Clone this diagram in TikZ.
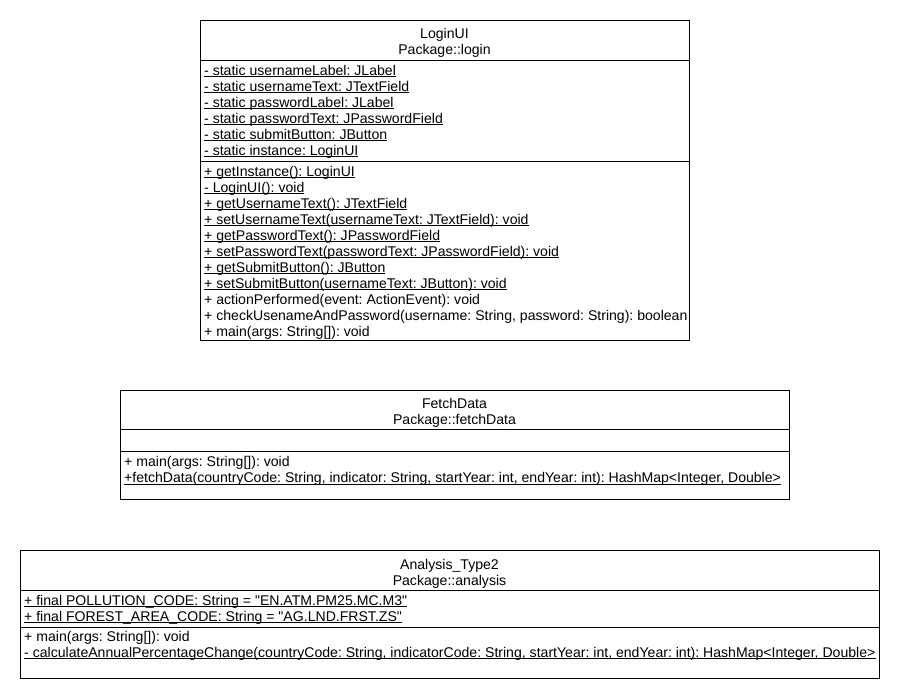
\documentclass[tikz,border=0pt]{standalone}
\usepackage{fontspec}
\setmainfont{Liberation Sans}
\frenchspacing
\newcommand{\umlfont}{\fontsize{14.08}{16}\selectfont}
\newcommand{\ulined}[1]{\setbox0\hbox{#1}\rlap{\rule[-1.8pt]{\wd0}{0.8pt}}\box0}
\tikzset{
  classbox/.style={draw, line width=0.8pt, anchor=north west, inner sep=0pt},
  classname/.style={anchor=base, inner sep=0pt, font=\umlfont},
  member/.style={anchor=base west, inner sep=0pt, font=\umlfont},
}
\begin{document}
\begin{tikzpicture}[x=1pt,y=-1pt]
            \useasboundingbox (0,0) rectangle (900,700);
            % LoginUI
            \node[classbox, minimum width=489pt, minimum height=320pt] (login) at (200,20) {};
            \draw[line width=0.8pt] (login.west |- 0,60)  -- (login.east |- 0,60);
            \draw[line width=0.8pt] (login.west |- 0,161) -- (login.east |- 0,161);
            \node[classname](loginName) at (444.5,39) {LoginUI};
            \node[classname](loginPkg)  at (444.5,55) {Package::login};
            \node[member](la1) at (204,75.5)  {\ulined{- static usernameLabel: JLabel}};
            \node[member](la2) at (204,91.5)  {\ulined{- static usernameText: JTextField}};
            \node[member](la3) at (204,107.5) {\ulined{- static passwordLabel: JLabel}};
            \node[member](la4) at (204,123.5) {\ulined{- static passwordText: JPasswordField}};
            \node[member](la5) at (204,139.5) {\ulined{- static submitButton: JButton}};
            \node[member](la6) at (204,155.5) {\ulined{- static instance: LoginUI}};
            \node[member](lm1)  at (204,176.5) {\ulined{+ getInstance(): LoginUI}};
            \node[member](lm2)  at (204,192.5) {\ulined{- LoginUI(): void}};
            \node[member](lm3)  at (204,208.5) {\ulined{+ getUsernameText(): JTextField}};
            \node[member](lm4)  at (204,224.5) {\ulined{+ setUsernameText(usernameText: JTextField): void}};
            \node[member](lm5)  at (204,240.5) {\ulined{+ getPasswordText(): JPasswordField}};
            \node[member](lm6)  at (204,256.5) {\ulined{+ setPasswordText(passwordText: JPasswordField): void}};
            \node[member](lm7)  at (204,272.5) {\ulined{+ getSubmitButton(): JButton}};
            \node[member](lm8)  at (204,288.5) {\ulined{+ setSubmitButton(usernameText: JButton): void}};
            \node[member](lm9)  at (204,304.5) {+ actionPerformed(event: ActionEvent): void};
            \node[member](lm10) at (204,320.5) {+ checkUsenameAndPassword(username: String, password: String): boolean};
            \node[member](lm11) at (204,336.5) {+ main(args: String[]): void};
            % FetchData
            \node[classbox, minimum width=669pt, minimum height=109pt] (fetch) at (120,390) {};
            \draw[line width=0.8pt] (fetch.west |- 0,429) -- (fetch.east |- 0,429);
            \draw[line width=0.8pt] (fetch.west |- 0,451) -- (fetch.east |- 0,451);
            \node[classname](fetchName) at (454.5,409) {FetchData};
            \node[classname](fetchPkg)  at (454.5,425) {Package::fetchData};
            \node[member](fm1) at (124,466.5) {+ main(args: String[]): void};
            \node[member](fm2) at (124,482.5) {\ulined{+fetchData(countryCode: String, indicator: String, startYear: int, endYear: int): HashMap<Integer, Double>}};
            % Analysis_Type2
            \node[classbox, minimum width=859pt, minimum height=128pt] (analysis) at (20,550) {};
            \draw[line width=0.8pt] (analysis.west |- 0,590) -- (analysis.east |- 0,590);
            \draw[line width=0.8pt] (analysis.west |- 0,627) -- (analysis.east |- 0,627);
            \node[classname](analysisName) at (449.5,569) {Analysis\_Type2};
            \node[classname](analysisPkg)  at (449.5,585) {Package::analysis};
            \node[member](aa1) at (24,605) {\ulined{+ final POLLUTION\_CODE: String = \textquotedbl EN.ATM.PM25.MC.M3\textquotedbl}};
            \node[member](aa2) at (24,621) {\ulined{+ final FOREST\_AREA\_CODE: String = \textquotedbl AG.LND.FRST.ZS\textquotedbl}};
            \node[member](am1) at (24,641) {+ main(args: String[]): void};
            \node[member](am2) at (24,657) {\ulined{- calculateAnnualPercentageChange(countryCode: String, indicatorCode: String, startYear: int, endYear: int): HashMap<Integer, Double>}};
\end{tikzpicture}
\end{document}
